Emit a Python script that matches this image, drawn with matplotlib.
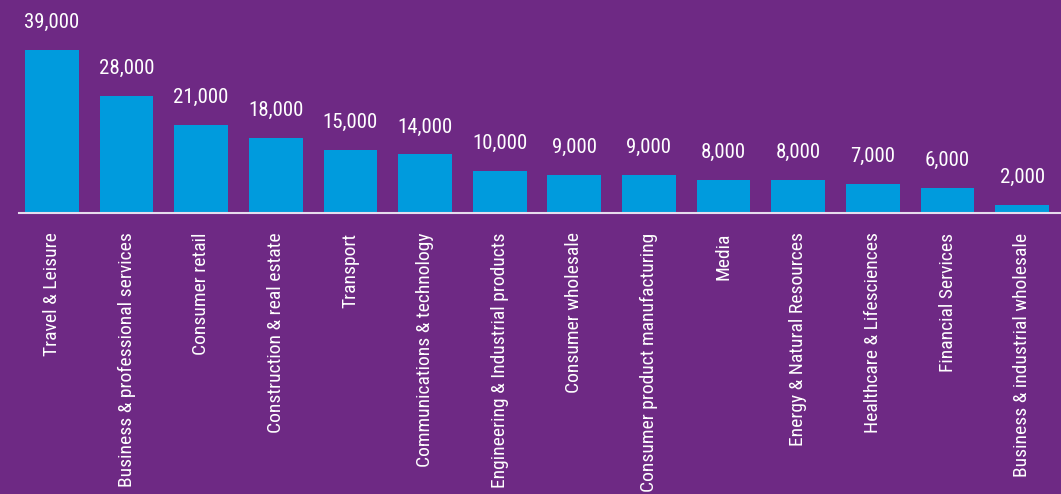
import matplotlib.pyplot as plt

categories = [
    "Travel & Leisure",
    "Business & professional services",
    "Consumer retail",
    "Construction & real estate",
    "Transport",
    "Communications & technology",
    "Engineering & Industrial products",
    "Consumer wholesale",
    "Consumer product manufacturing",
    "Media",
    "Energy & Natural Resources",
    "Healthcare & Lifesciences",
    "Financial Services",
    "Business & industrial wholesale",
]
values = [39000, 28000, 21000, 18000, 15000, 14000, 10000,
          9000, 9000, 8000, 8000, 7000, 6000, 2000]

purple = "#6E2984"
blue = "#009BDD"

plt.rcParams["font.family"] = ["Roboto Condensed", "DejaVu Sans"]

fig = plt.figure(figsize=(10.61, 4.94), dpi=100, facecolor=purple)
ax = fig.add_axes([19 / 1061, 1 - 213 / 494, 1042 / 1061, 213 / 494])
ax.set_facecolor(purple)

x = range(len(values))
bars = ax.bar(x, values, width=0.72, color=blue, zorder=2)

for rect, v in zip(bars, values):
    ax.annotate(f"{v:,}", (rect.get_x() + rect.get_width() / 2, v),
                xytext=(0, 13), textcoords="offset points",
                ha="center", va="bottom", color="white", fontsize=15)

ax.set_xlim(-0.44, 13.52)
ax.set_ylim(0, 39000 * 213 / 163)

ax.set_xticks(list(x))
ax.set_xticklabels(categories, rotation=90, va="top", ha="center",
                   color="white", fontsize=14)
ax.tick_params(axis="x", length=0, pad=14)
ax.set_yticks([])

for side in ("top", "right", "left"):
    ax.spines[side].set_visible(False)
ax.spines["bottom"].set_color("#E6DCEE")
ax.spines["bottom"].set_linewidth(1.5)

fig.savefig("out.png", dpi=100, facecolor=purple)
